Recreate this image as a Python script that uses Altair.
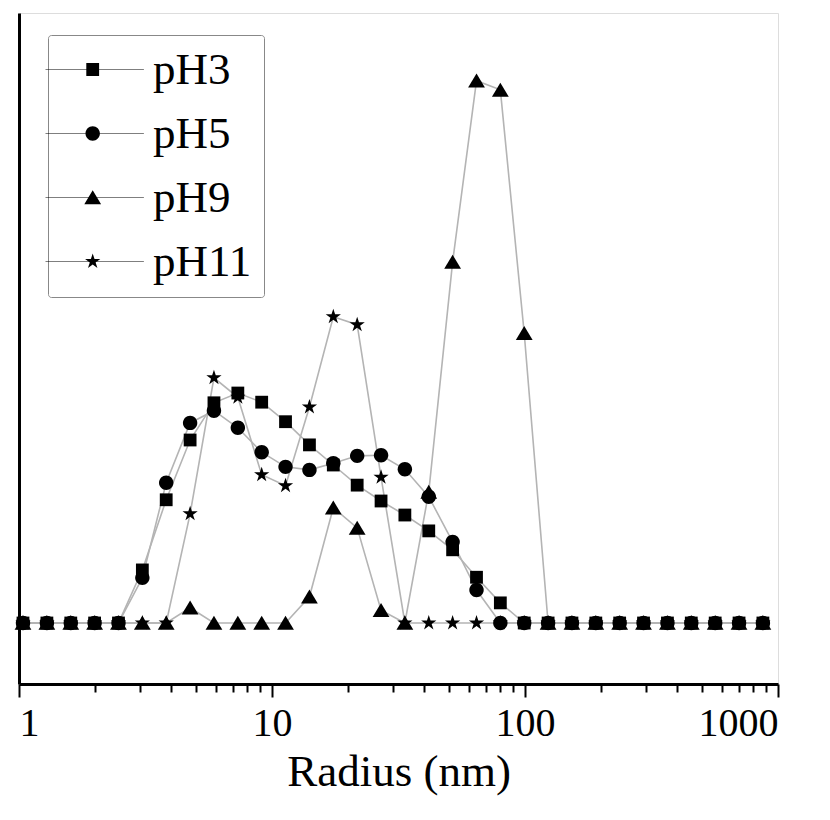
import altair as alt
import pandas as pd

# ---- data ----
radius = [1.037, 1.289, 1.602, 1.990, 2.473, 3.073, 3.818, 4.746, 5.896, 7.328,
          9.104, 11.31, 14.06, 17.47, 21.71, 26.98, 33.51, 41.65, 51.75, 64.32,
          79.90, 99.29, 123.4, 153.3, 190.5, 236.7, 294.1, 365.6, 454.2, 564.6,
          701.5, 871.6]

ph3 = [0, 0, 0, 0, 0, 8.7, 20.2, 30.0, 36.1, 37.7,
       36.2, 33.0, 29.2, 25.9, 22.6, 20.0, 17.7, 15.1, 12.0, 7.5,
       3.3, 0, 0, 0, 0, 0, 0, 0, 0, 0,
       0, 0]
ph5 = [0, 0, 0, 0, 0, 7.4, 23.0, 32.8, 34.8, 32.0,
       28.0, 25.6, 25.1, 26.2, 27.4, 27.5, 25.2, 20.7, 13.3, 5.4,
       0, 0, 0, 0, 0, 0, 0, 0, 0, 0,
       0, 0]
ph9 = [0, 0, 0, 0, 0, 0, 0, 2.5, 0, 0,
       0, 0, 4.3, 18.9, 15.6, 2.1, 0, 21.5, 59.2, 88.9,
       87.4, 47.5, 0, 0, 0, 0, 0, 0, 0, 0,
       0, 0]
ph11 = [0, 0, 0, 0, 0, 0, 0, 17.9, 40.2, 37.0,
        24.3, 22.5, 35.4, 50.2, 48.9, 23.9, 0, 0, 0, 0,
        0, 0, 0, 0, 0, 0, 0, 0, 0, 0,
        0, 0]

series_names = ["pH3", "pH5", "pH9", "pH11"]
tick_values = [1, 2, 3, 4, 5, 6, 7, 8, 9,
               10, 20, 30, 40, 50, 60, 70, 80, 90,
               100, 200, 300, 400, 500, 600, 700, 800, 900, 1000]

rows = []
for name, vals in zip(series_names, [ph3, ph5, ph9, ph11]):
    for r, v in zip(radius, vals):
        rows.append({"radius": r, "value": v, "series": name})
df = pd.DataFrame(rows)

# ---- marker shapes (unit box paths) ----
def poly(pts, dx=0.0):
    return "M" + "L".join(f"{x + dx:.3f},{y:.3f}" for x, y in pts) + "Z"

def circle(r, dx=0.0):
    return (f"M{dx + r:.3f},0A{r},{r},0,1,1,{dx - r:.3f},0"
            f"A{r},{r},0,1,1,{dx + r:.3f},0Z")

square_pts = [(-0.8, -0.8), (0.8, -0.8), (0.8, 0.8), (-0.8, 0.8)]
tri_pts = [(0, -0.9), (1.05, 0.85), (-1.05, 0.85)]
star_pts = [(0, -1.0), (0.2245, -0.309), (0.951, -0.309), (0.363, 0.118),
            (0.588, 0.809), (0, 0.382), (-0.588, 0.809), (-0.363, 0.118),
            (-0.951, -0.309), (-0.2245, -0.309)]

marker_paths = [poly(square_pts), circle(0.9), poly(tri_pts), poly(star_pts)]
D = 4.9
# thin filled bar standing in for the legend's line segment
seg = "M-1,-0.045H11.3V0.045H-1Z"
legend_paths = [seg + poly(square_pts, D), seg + circle(0.9, D),
                seg + poly(tri_pts, D), seg + poly(star_pts, D)]

FONT = "Liberation Serif"
MAJOR = "datum.value == 1 || datum.value == 10 || datum.value == 100 || datum.value == 1000"

x_enc = alt.X(
    "radius:Q",
    scale=alt.Scale(type="log", domain=[1, 1000], nice=False),
    axis=alt.Axis(
        values=tick_values,
        labelExpr="(" + MAJOR + ") ? format(datum.value, 'd') : ''",
        tickSize={"condition": {"test": MAJOR, "value": 13}, "value": 8},
        tickWidth=2,
        tickColor="black",
        domainColor="black",
        domainWidth=3,
        grid=False,
        labelOverlap=False,
        labelFont=FONT,
        labelFontSize=40,
        labelColor="black",
        labelPadding=6,
        titleFont=FONT,
        titleFontSize=45,
        titleFontWeight="normal",
        titleColor="black",
        titlePadding=6,
    ),
    title="Radius (nm)",
)
y_enc = alt.Y(
    "value:Q",
    scale=alt.Scale(domain=[-10, 100], nice=False, zero=False),
    axis=alt.Axis(labels=False, ticks=False, grid=False, domainColor="black", domainWidth=3),
    title=None,
)

lines = alt.Chart(df).mark_line(color="#b4b4b4", strokeWidth=1.6).encode(
    x=x_enc, y=y_enc, detail="series:N", order="radius:Q"
)
points = alt.Chart(df).mark_point(filled=True, color="black", size=256, opacity=1).encode(
    x=x_enc, y=y_enc,
    shape=alt.Shape("series:N", scale=alt.Scale(domain=series_names, range=marker_paths), legend=None),
)
legend_layer = alt.Chart(df).mark_point(filled=True, color="black", size=256).encode(
    x=x_enc, y=y_enc,
    opacity=alt.value(0),
    shape=alt.Shape(
        "series:N",
        scale=alt.Scale(domain=series_names, range=legend_paths),
        legend=alt.Legend(
            title=None,
            orient="none",
            legendX=29,
            legendY=22,
            labelFont=FONT,
            labelFontSize=45,
            labelColor="black",
            labelOffset=77,
            symbolOffset=-29,
            rowPadding=18,
            padding=12,
            symbolSize=256,
            symbolOpacity=1,
            symbolFillColor="black",
            strokeColor="#888888",
            fillColor="white",
            cornerRadius=3,
        ),
    ),
)

chart = alt.layer(lines, points, legend_layer).resolve_scale(shape="independent").properties(
    width=759,
    height=671,
    autosize=alt.AutoSizeParams(type="none"),
    padding={"left": 11, "top": 5, "right": 40, "bottom": 130},
).configure_view(stroke="#222222", strokeWidth=3).configure(background="white")

chart.save("out.html", embed_options={"renderer": "svg", "actions": False})
